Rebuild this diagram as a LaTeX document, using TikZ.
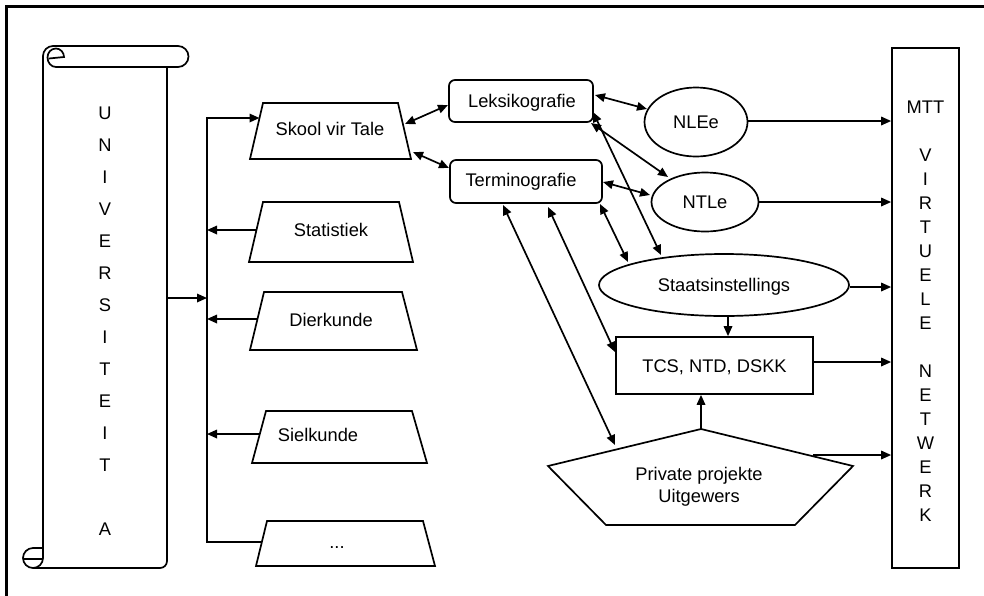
\documentclass[tikz,border=0pt]{standalone}
\usepackage{fontspec}
\setmainfont{Liberation Sans}
\usetikzlibrary{arrows.meta,shapes.geometric,calc}
\begin{document}
\begin{tikzpicture}[x=1pt,y=-1pt,line width=1.7pt,
  >={Triangle[length=10pt,width=8.5pt]},
  arr/.style={->},
  barr/.style={<->},
  lbl/.style={font=\fontsize{18.3}{22}\selectfont, inner sep=0pt, text height=13.1pt, text depth=0pt},
  rbox/.style={draw, rounded corners=6pt, inner sep=0pt},
  ebox/.style={draw, ellipse, inner sep=0pt, lbl},
  sbox/.style={draw, rectangle, inner sep=0pt, lbl},
  stack/.style={inner sep=0pt, align=center, anchor=north}
]
\useasboundingbox (0,0) rectangle (984,595);
\begin{scope}
  \clip (0,0) rectangle (984,595);
  \draw[line width=3pt] (6.5,6.5) rectangle (1010,620);
\end{scope}

% ---- scroll (Universiteit A)
\draw (43,558) -- (43,56) .. controls (43,50.5) and (47.5,46) .. (53,46) -- (178,46)
  .. controls (183.8,46) and (188.5,50.7) .. (188.5,56.5)
  .. controls (188.5,62.3) and (183.8,67) .. (178,67) -- (56,67);
\draw (56,67) .. controls (51,67) and (47.5,62.5) .. (47.5,57.5)
  .. controls (47.5,52.5) and (51,48.5) .. (56,48.5)
  .. controls (60.5,48.5) and (64,52.5) .. (64,57) -- (49,58.5);
\draw (167,67) -- (167,561) .. controls (167,564.9) and (163.9,568) .. (160,568) -- (33,568);
\draw (33,568) .. controls (27.5,568) and (23,563.5) .. (23,558)
  .. controls (23,552.5) and (27.5,548) .. (33,548) -- (43,548);
\draw (43,558) .. controls (43,563.5) and (38.5,568) .. (33,568);
\draw (24,559) -- (43,559);
\coordinate (scrollR) at (167,298);
\node[stack, font=\fontsize{18.3}{32}\selectfont] (univ) at (105,106.4)
  {U\\N\\I\\V\\E\\R\\S\\I\\T\\E\\I\\T\\ ~ \\A};

% ---- trapezoids
\draw (263,103) -- (398,103) -- (411,159) -- (250,159) -- cycle;
\node[lbl] (skool) at (330,128.5) {Skool vir Tale};
\draw (263,202) -- (399,202) -- (413,262) -- (249,262) -- cycle;
\node[lbl] (stat) at (331,230) {Statistiek};
\draw (264,292) -- (402,292) -- (417,350) -- (250,350) -- cycle;
\node[lbl] (dier) at (331,320) {Dierkunde};
\draw (266,411) -- (412,411) -- (427,463) -- (252,463) -- cycle;
\node[lbl] (siel) at (318,435) {Sielkunde};
\draw (267,521) -- (423,521) -- (435,566) -- (256,566) -- cycle;
\node[lbl] (dots) at (337,542) {...};

\coordinate (skoolL) at (259.5,118);
\coordinate (statL) at (256.5,230);
\coordinate (dierL) at (257.5,319);
\coordinate (sielL) at (259,434);
\coordinate (dotsL) at (262,542);
\coordinate (tTop) at (207,118);
\coordinate (tBot) at (207,542);

\draw[arr] (dotsL) -- (tBot) -- (tTop) -- (skoolL);
\draw[arr] (statL) -- (statL -| tTop);
\draw[arr] (dierL) -- (dierL -| tTop);
\draw[arr] (sielL) -- (sielL -| tTop);
\draw[arr] (scrollR) -- (scrollR -| tTop);

% ---- middle boxes
\node[rbox, minimum width=144pt, minimum height=42pt] (leks) at (521,101) {};
\node[lbl] (leksT) at (522,101) {Leksikografie};
\node[rbox, minimum width=152pt, minimum height=43pt] (term) at (526,181.5) {};
\node[lbl] (termT) at (521,180) {Terminografie};

\node[ebox, minimum width=103pt, minimum height=69pt] (nlee) at (696,122) {NLEe};
\node[ebox, minimum width=107pt, minimum height=59pt] (ntle) at (705,202) {NTLe};
\node[ebox, minimum width=250pt, minimum height=62pt] (staats) at (724,285) {Staatsinstellings};
\node[sbox, minimum width=197pt, minimum height=57pt] (tcs) at (714.5,365.5) {TCS, NTD, DSKK};

\draw (701,429) coordinate (privTop) -- (853,466) -- (795,525) -- (606,525) -- (548,466) -- cycle;
\node[inner sep=0pt, align=center, anchor=north, font=\fontsize{18.3}{22}\selectfont] (priv) at (699,466.2) {Private projekte\\Uitgewers};

\node[draw, rectangle, inner sep=0pt, minimum width=67pt, minimum height=520pt] (net) at (925.5,308) {};
\node[stack, font=\fontsize{18.3}{24}\selectfont] (netT) at (925.5,100.4)
  {MTT\\ ~ \\V\\I\\R\\T\\U\\E\\L\\E\\ ~ \\N\\E\\T\\W\\E\\R\\K};

% ---- connector end points
\coordinate (a1) at (405,124);   \coordinate (a2) at (448,105);
\coordinate (b1) at (413,152);   \coordinate (b2) at (449,168);
\coordinate (c1) at (595,95);    \coordinate (c2) at (647,109);
\coordinate (d1) at (591,123);   \coordinate (d2) at (668,177);
\coordinate (e1) at (593,112);   \coordinate (e2) at (661,255);
\coordinate (f1) at (603,182);   \coordinate (f2) at (650,195);
\coordinate (g1) at (600,204);   \coordinate (g2) at (628,262);
\coordinate (h1) at (548,207);   \coordinate (h2) at (615,352);
\coordinate (i1) at (503,205);   \coordinate (i2) at (615,445);
\coordinate (privR) at (813,455);

\draw[barr] (a1) -- (a2);
\draw[barr] (b1) -- (b2);
\draw[barr] (c1) -- (c2);
\draw[barr] (d1) -- (d2);
\draw[barr] (e1) -- (e2);
\draw[barr] (f1) -- (f2);
\draw[barr] (g1) -- (g2);
\draw[barr] (h1) -- (h2);
\draw[barr] (i1) -- (i2);

\draw[arr] ([xshift=4pt]staats.south) -- ([xshift=4pt]staats.south |- tcs.north);
\draw[arr] (privTop) -- (privTop |- tcs.south);

\draw[arr] ([yshift=1pt]nlee.east) -- ([yshift=1pt]nlee.east -| net.west);
\draw[arr] (ntle.east) -- (ntle.east -| net.west);
\draw[arr] ([yshift=-2pt]staats.east) -- ([yshift=-2pt]staats.east -| net.west);
\draw[arr] ([yshift=3.5pt]tcs.east) -- ([yshift=3.5pt]tcs.east -| net.west);
\draw[arr] (privR) -- (privR -| net.west);
\end{tikzpicture}
\end{document}
